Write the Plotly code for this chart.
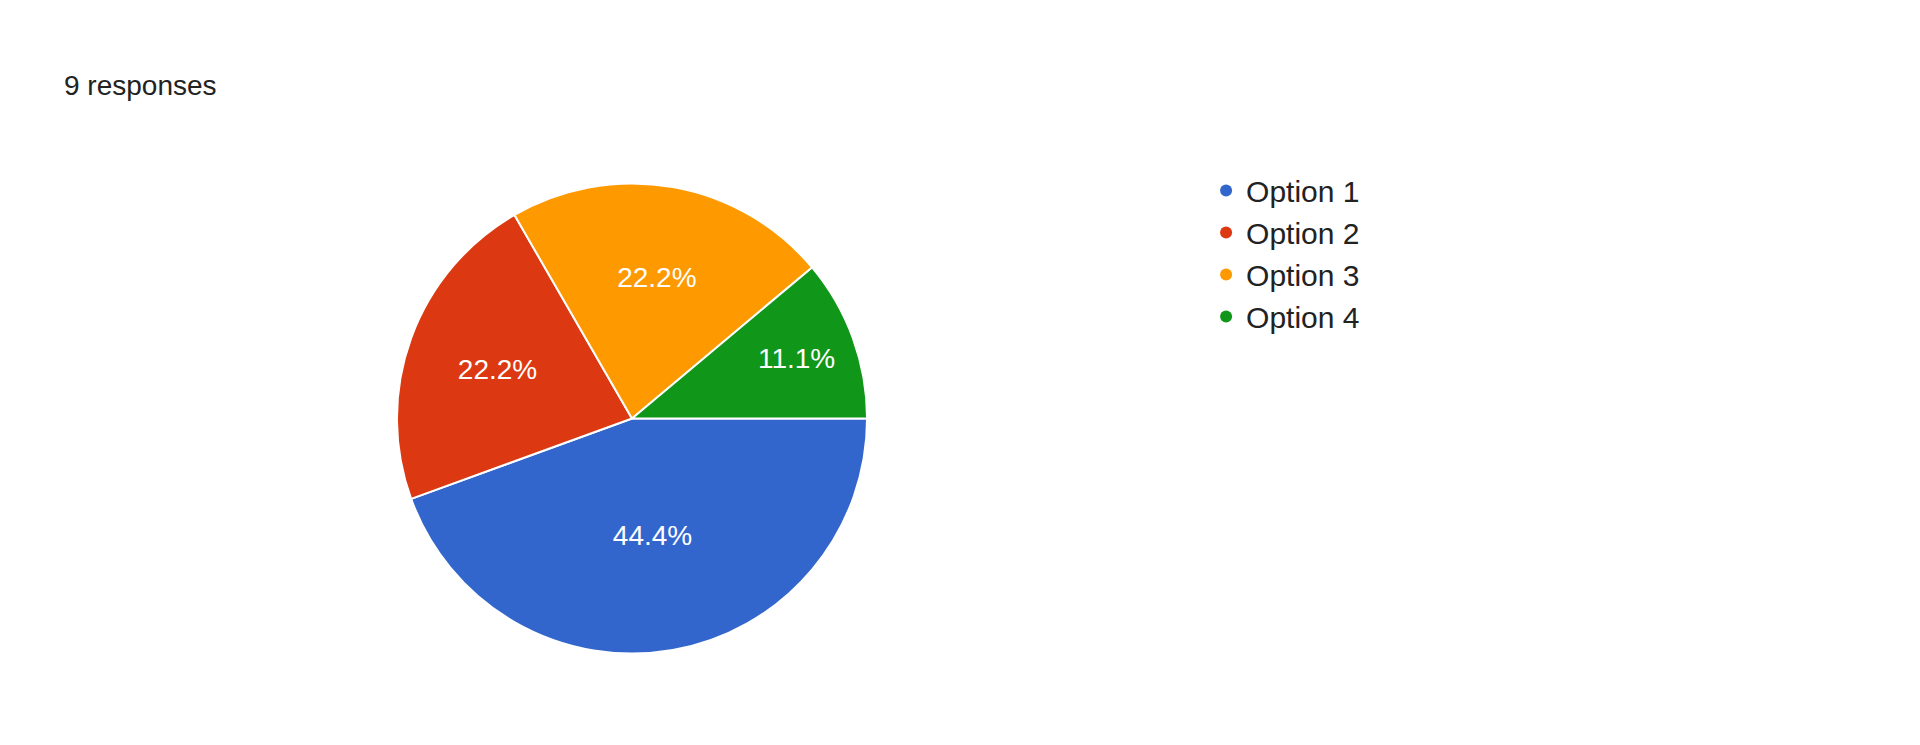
import plotly.graph_objects as go

labels = ["Option 1", "Option 2", "Option 3", "Option 4"]
counts = [4, 2, 2, 1]
colors = ["#3366cc", "#dc3912", "#ff9900", "#109618"]
title_text = "9 responses"

fig = go.Figure()
fig.add_trace(go.Pie(
    labels=labels, values=counts, sort=False,
    direction="clockwise", rotation=90,
    marker=dict(colors=colors, line=dict(color="#ffffff", width=2)),
    textinfo="percent", textposition="inside",
    texttemplate="%{percent:.1%}",
    insidetextfont=dict(color="#ffffff", size=28, family="Liberation Sans, Arial"),
    domain=dict(x=[0.2025, 0.4475], y=[0.1335, 0.7645]),
    showlegend=False, hoverinfo="label+value+percent",
))
# legend entries with circle markers
for lab, col in zip(labels, colors):
    fig.add_trace(go.Scatter(
        x=[None], y=[None], mode="markers", name=lab,
        marker=dict(color=col, size=30, symbol="circle"),
    ))

fig.update_layout(
    width=1920, height=745,
    margin=dict(l=0, r=0, t=0, b=0),
    paper_bgcolor="#ffffff", plot_bgcolor="#ffffff",
    xaxis=dict(visible=False), yaxis=dict(visible=False),
    font=dict(family="Liberation Sans, Arial", color="#222222"),
    legend=dict(x=0.624, y=0.79, xanchor="left", yanchor="top",
                font=dict(size=30, color="#222222"), tracegroupgap=0,
                itemsizing="constant"),
    annotations=[dict(text=title_text, x=54 / 1920, y=1 - 77 / 745,
                      xref="paper", yref="paper", xanchor="left",
                      yanchor="middle", showarrow=False,
                      font=dict(size=28, color="#222222"))],
)
fig.write_html("out.html")
